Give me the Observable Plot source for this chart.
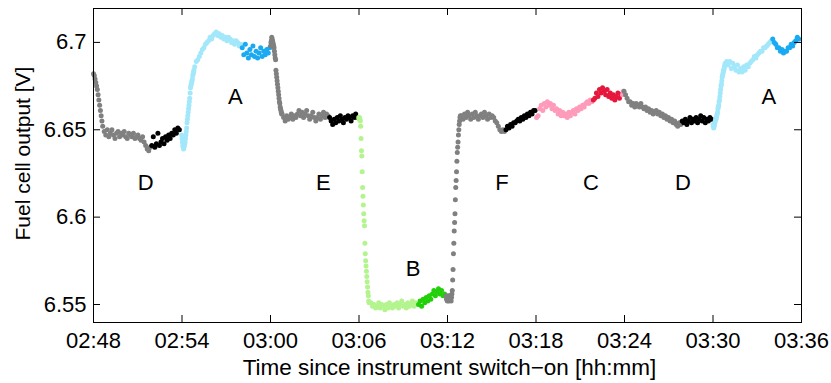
<!DOCTYPE html>
<html><head><meta charset="utf-8">
<script src="https://cdn.jsdelivr.net/npm/d3@7"></script>
<script src="https://cdn.jsdelivr.net/npm/@observablehq/plot@0.6"></script>
<style>body{margin:0;background:#fff;} svg{display:block;}</style>
</head><body><div id="chart"></div>
<script>
// Time in minutes after 02:48, voltage in V. Each piece: colour group, start minute, sample step, values.
const d1Drop = [6.682, 6.681, 6.679, 6.677, 6.675, 6.673, 6.670, 6.667, 6.664, 6.661, 6.658, 6.655, 6.652];
const d1Flat = [6.649, 6.647, 6.650, 6.646, 6.648, 6.650, 6.647, 6.645, 6.648, 6.649, 6.646, 6.648, 6.647, 6.649, 6.646, 6.645, 6.648, 6.647, 6.646, 6.648, 6.645, 6.646, 6.647, 6.645, 6.644, 6.646, 6.643, 6.641, 6.639, 6.638, 6.640];
const d1Black = [6.641, 6.646, 6.640, 6.642, 6.648, 6.641, 6.643, 6.645, 6.642, 6.646, 6.644, 6.647, 6.645, 6.648, 6.647, 6.650, 6.648, 6.651, 6.650];
const a1Rise = [6.647, 6.645, 6.643, 6.641, 6.640, 6.639, 6.640, 6.641, 6.642, 6.643, 6.645, 6.647, 6.649, 6.651, 6.654, 6.656, 6.658, 6.660, 6.662, 6.664, 6.666, 6.668, 6.671, 6.674, 6.675, 6.676, 6.677, 6.678, 6.679, 6.681, 6.682, 6.683, 6.684];
const a1Top = [6.686, 6.689, 6.690, 6.692, 6.694, 6.696, 6.697, 6.699, 6.700, 6.701, 6.703, 6.702, 6.704, 6.705, 6.706, 6.704, 6.705, 6.703, 6.704, 6.702, 6.703, 6.701, 6.703, 6.702, 6.700, 6.701, 6.699, 6.701, 6.700, 6.698, 6.699];
const a1Blue = [6.697, 6.693, 6.699, 6.694, 6.691, 6.696, 6.693, 6.698, 6.692, 6.695, 6.691, 6.694, 6.697, 6.692, 6.695, 6.693, 6.696, 6.694, 6.697];
const e1Drop = [6.698, 6.700, 6.701, 6.703, 6.702, 6.701, 6.700, 6.699, 6.698, 6.697, 6.695, 6.693, 6.691, 6.690, 6.684, 6.682, 6.680, 6.678, 6.676, 6.674, 6.672, 6.670, 6.668, 6.666, 6.665, 6.663, 6.662, 6.661, 6.660, 6.659, 6.659];
const e1Flat = [6.657, 6.655, 6.658, 6.656, 6.657, 6.659, 6.656, 6.658, 6.657, 6.659, 6.661, 6.658, 6.660, 6.657, 6.659, 6.661, 6.658, 6.656, 6.658, 6.660, 6.657, 6.655, 6.657, 6.659, 6.656, 6.658, 6.660, 6.657, 6.659, 6.658];
const e1Black = [6.657, 6.655, 6.653, 6.656, 6.654, 6.657, 6.655, 6.658, 6.656, 6.654, 6.657, 6.656, 6.658, 6.657, 6.655, 6.658, 6.657, 6.659, 6.657];
const b1Drop = [6.657, 6.656, 6.657, 6.656, 6.655, 6.652, 6.645, 6.638, 6.635, 6.626, 6.617, 6.612, 6.607, 6.602, 6.598, 6.595, 6.585, 6.579, 6.575, 6.572, 6.569, 6.566, 6.563, 6.560, 6.557, 6.555, 6.552, 6.551];
const b1Flat = [6.551, 6.549, 6.550, 6.548, 6.549, 6.551, 6.548, 6.550, 6.549, 6.547, 6.550, 6.548, 6.551, 6.549, 6.548, 6.550, 6.549, 6.551, 6.548, 6.550, 6.552, 6.549, 6.550, 6.548, 6.551, 6.549, 6.550, 6.552, 6.549, 6.551, 6.550];
const b1Green = [6.550, 6.552, 6.549, 6.553, 6.551, 6.554, 6.552, 6.555, 6.553, 6.556, 6.558, 6.555, 6.557, 6.559, 6.556, 6.558, 6.555, 6.556];
const f1Rise = [6.555, 6.553, 6.554, 6.552, 6.554, 6.553, 6.555, 6.552, 6.554, 6.553, 6.555, 6.553, 6.554, 6.552, 6.554, 6.556, 6.558, 6.564, 6.570, 6.579, 6.585, 6.592, 6.597, 6.602, 6.610, 6.617, 6.621, 6.626, 6.632, 6.637, 6.640, 6.643, 6.647, 6.650, 6.653, 6.655, 6.657, 6.658];
const f1Flat = [6.658, 6.656, 6.659, 6.657, 6.660, 6.658, 6.656, 6.659, 6.657, 6.660, 6.658, 6.656, 6.658, 6.659, 6.657, 6.660, 6.658, 6.656, 6.659, 6.657, 6.658, 6.657, 6.655, 6.654, 6.652, 6.650, 6.649, 6.650, 6.649];
const f1Black = [6.650, 6.652, 6.651, 6.653, 6.652, 6.654, 6.654, 6.655, 6.656, 6.655, 6.657, 6.656, 6.658, 6.657, 6.659, 6.658, 6.660, 6.659, 6.661, 6.661];
const c1Pink = [6.657, 6.658, 6.662, 6.664, 6.661, 6.665, 6.663, 6.666, 6.664, 6.665, 6.662, 6.664, 6.661, 6.662, 6.659, 6.661, 6.658, 6.660, 6.658, 6.659, 6.657, 6.660, 6.658, 6.660, 6.661, 6.659, 6.662, 6.661, 6.663, 6.662, 6.664, 6.663, 6.665, 6.666, 6.665, 6.667, 6.666];
const c1Red = [6.667, 6.668, 6.671, 6.669, 6.673, 6.671, 6.674, 6.672, 6.670, 6.673, 6.669, 6.671, 6.668, 6.670, 6.667, 6.669, 6.671, 6.668, 6.670];
const c1PinkEnd = [6.670, 6.672];
const d2Gray = [6.672, 6.670, 6.668, 6.666, 6.666, 6.664, 6.665, 6.663, 6.665, 6.664, 6.663, 6.665, 6.663, 6.662, 6.663, 6.661, 6.662, 6.660, 6.661, 6.659, 6.660, 6.661, 6.659, 6.660, 6.658, 6.659, 6.657, 6.658, 6.656, 6.657, 6.655, 6.656, 6.654, 6.655, 6.653, 6.652, 6.654, 6.653];
const d2Black = [6.655, 6.654, 6.656, 6.653, 6.655, 6.657, 6.654, 6.656, 6.655, 6.657, 6.654, 6.656, 6.658, 6.655, 6.657, 6.654, 6.656, 6.655, 6.657, 6.656];
const a2Rise = [6.653, 6.652, 6.651, 6.652, 6.653, 6.654, 6.655, 6.656, 6.656, 6.657, 6.658, 6.659, 6.660, 6.662, 6.663, 6.664, 6.666, 6.667, 6.669, 6.671, 6.673, 6.675, 6.676, 6.678, 6.680, 6.681, 6.682, 6.683, 6.684, 6.685, 6.686, 6.687, 6.688];
const a2Band = [6.689, 6.687, 6.689, 6.685, 6.688, 6.686, 6.684, 6.687, 6.683, 6.685, 6.683, 6.686, 6.684, 6.687, 6.686, 6.688, 6.689, 6.690, 6.692, 6.691, 6.693, 6.694, 6.695, 6.695, 6.697, 6.697, 6.698, 6.699, 6.700, 6.701];
const a2Blue = [6.702, 6.700, 6.699, 6.697, 6.697, 6.695, 6.696, 6.694, 6.695, 6.695, 6.697, 6.697, 6.699, 6.698, 6.700, 6.701, 6.703, 6.702];

const pieces = [
  ["gray", 0, 0.052, d1Drop], ["gray", 0.728, 0.104, d1Flat], ["black", 3.95, 0.104, d1Black],
  ["lightBlue", 5.977, 0.026, a1Rise], ["lightBlue", 6.861, 0.104, a1Top], ["blue", 10.083, 0.104, a1Blue],
  ["gray", 12.006, 0.026, e1Drop], ["gray", 12.89, 0.104, e1Flat], ["black", 16.008, 0.104, e1Black],
  ["lightGreen", 17.983, 0.026, b1Drop], ["lightGreen", 18.815, 0.104, b1Flat], ["green", 22.037, 0.104, b1Green],
  ["gray", 23.909, 0.026, f1Rise], ["gray", 24.948, 0.104, f1Flat], ["black", 27.963, 0.104, f1Black],
  ["pink", 30.042, 0.104, c1Pink], ["red", 33.888, 0.104, c1Red], ["pink", 35.863, 0.052, c1PinkEnd],
  ["gray", 35.967, 0.104, d2Gray], ["black", 39.917, 0.104, d2Black],
  ["lightBlue", 41.996, 0.026, a2Rise], ["lightBlue", 42.931, 0.104, a2Band], ["blue", 46.05, 0.104, a2Blue]
];

const labelText = ["D", "A", "E", "B", "F", "C", "D", "A"];
const labelTime = [3.53, 9.62, 15.59, 21.67, 27.7, 33.73, 39.97, 45.79];
const labelVolt = [6.6194, 6.6686, 6.6194, 6.5703, 6.6194, 6.6194, 6.6194, 6.6686];

const xTickMinutes = [0, 6, 12, 18, 24, 30, 36, 42, 48];
const xTickLabels = ["02:48", "02:54", "03:00", "03:06", "03:12", "03:18", "03:24", "03:30", "03:36"];
const yTicks = [6.55, 6.6, 6.65, 6.7];
const yTickLabels = ["6.55", "6.6", "6.65", "6.7"];
const xLabel = "Time since instrument switch\u2212on [hh:mm]";
const yLabel = "Fuel cell output [V]";

const colorMap = {gray: "#808080", black: "#000000", lightBlue: "#a3e7fa", blue: "#1aaaf2",
  lightGreen: "#b4f48f", green: "#22d00a", pink: "#ff9bba", red: "#e6173d"};

const data = pieces.flatMap(([c, t0, dt, vals]) => vals.map((v, i) => ({t: t0 + i * dt, v, c})));

const W = 831, H = 383, mL = 93, mR = 30, mT = 8, mB = 61;
const innerW = W - mL - mR, innerH = H - mT - mB, tickLen = 7;
const font = "'Liberation Sans', Arial, Helvetica, sans-serif";

const chart = Plot.plot({
  width: W, height: H,
  marginLeft: mL, marginRight: mR, marginTop: mT, marginBottom: mB,
  style: {fontFamily: font, fontSize: "22px", background: "#fff", color: "#000"},
  x: {domain: [0, 48]},
  y: {domain: [6.5397, 6.7194]},
  color: {type: "identity"},
  marks: [
    Plot.dot(data, {x: "t", y: "v", r: 2.5, fill: d => colorMap[d.c], stroke: null}),
    Plot.text(labelText, {x: (d, i) => labelTime[i], y: (d, i) => labelVolt[i], text: d => d, fontSize: 22, fill: "#000"}),
    Plot.frame({stroke: "#000", strokeWidth: 1}),
    Plot.ruleX(xTickMinutes, {x: d => d, insetTop: innerH - tickLen, stroke: "#000"}),
    Plot.ruleX(xTickMinutes, {x: d => d, insetBottom: innerH - tickLen, stroke: "#000"}),
    Plot.ruleY(yTicks, {y: d => d, insetRight: innerW - tickLen, stroke: "#000"}),
    Plot.ruleY(yTicks, {y: d => d, insetLeft: innerW - tickLen, stroke: "#000"}),
    Plot.axisX(xTickMinutes, {tickSize: 0, tickPadding: 10, tickFormat: d => xTickLabels[xTickMinutes.indexOf(d)], label: null, fontSize: 22}),
    Plot.axisY(yTicks, {tickSize: 0, tickPadding: 7, tickFormat: d => yTickLabels[yTicks.indexOf(d)], label: null, fontSize: 22}),
    Plot.text([xLabel], {frameAnchor: "bottom", dx: 2, dy: 45, lineAnchor: "middle", textAnchor: "middle", text: d => d, fontSize: 22.5}),
    Plot.text([yLabel], {frameAnchor: "left", rotate: -90, dx: -70, dy: -12, lineAnchor: "middle", textAnchor: "middle", text: d => d, fontSize: 21})
  ]
});
document.getElementById("chart").appendChild(chart);
</script>
</body></html>
